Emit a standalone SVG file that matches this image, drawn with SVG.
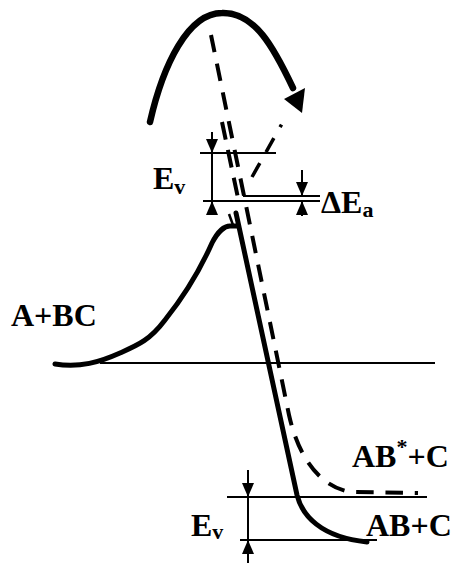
<svg xmlns="http://www.w3.org/2000/svg" width="457" height="563" viewBox="0 0 457 563">
<style>
.lbl{font-family:"Liberation Serif","Times New Roman",serif;font-weight:bold;font-size:32px;fill:#000}
.sub{font-size:22px}
.thin{stroke:#000;stroke-width:2;fill:none}
.solid{stroke:#000;stroke-width:5;fill:none;stroke-linecap:round;stroke-linejoin:round}
.dash{stroke:#000;stroke-width:4;fill:none}
.arr{stroke:#000;stroke-width:2;fill:none;marker-end:url(#ah)}
</style>
<defs>
<marker id="ah" viewBox="0 0 14 12" refX="14" refY="6" markerWidth="14" markerHeight="13" markerUnits="userSpaceOnUse" orient="auto">
<path d="M0,0 L14,6 L0,12 z" fill="#000"/>
</marker>
</defs>
<rect width="457" height="563" fill="#fff"/>
<g id="connectors">
<path id="arc" d="M150,122 C163,65 188,13 222,13 C255,12 274,48 293,88" stroke="#000" stroke-width="6.5" fill="none" stroke-linecap="round"/>
<polygon points="284,99 305,88 302,113" fill="#000"/>
<line class="thin" x1="100" y1="363" x2="435" y2="363"/>
<path class="solid" d="M55,364 C80,368 100,362 120,353 C138,345 150,340 165,320 C185,295 200,270 212,243 C218,231 225,226 230,226 L238,226"/>
<path class="solid" d="M236,213 L297,495 C302,515 320,537 367,542"/>
<line x1="229" y1="214" x2="233" y2="225" stroke="#000" stroke-width="2.5"/>
<path class="dash" d="M211,35 L289,415 C298,455 318,486 350,492 L418,493" stroke-dasharray="17.5 11.8"/>
<path class="dash" d="M222,122 L238,198" stroke-dasharray="18 10.5"/>
<path d="M252,177 L283.5,121" stroke="#000" stroke-width="3.5" fill="none" stroke-dasharray="16 12.6 16 12.6 3 50"/>
<line class="thin" x1="200" y1="153" x2="276" y2="153"/>
<line class="thin" x1="243" y1="196" x2="320" y2="196"/>
<line class="thin" x1="203" y1="201" x2="320" y2="201"/>
<line class="thin" x1="227" y1="497" x2="427" y2="497"/>
<line class="thin" x1="240" y1="540" x2="377" y2="540"/>
<line class="thin" x1="212" y1="153" x2="212" y2="201"/>
<line class="arr" x1="212" y1="132" x2="212" y2="153"/>
<line class="arr" x1="212" y1="214" x2="212" y2="201"/>
<line class="arr" x1="302" y1="170" x2="302" y2="196"/>
<line class="arr" x1="302" y1="216" x2="302" y2="201"/>
<line class="thin" x1="248" y1="497" x2="248" y2="540"/>
<line class="arr" x1="248" y1="470" x2="248" y2="497"/>
<line class="arr" x1="248" y1="563" x2="248" y2="540"/>
</g>
<g id="label-ABC"><text class="lbl" x="11" y="326">A+BC</text></g>
<g id="label-ABstar"><text class="lbl" x="352" y="467">AB<tspan class="sub" dy="-13">*</tspan><tspan dy="13">+C</tspan></text></g>
<g id="label-AB"><text class="lbl" x="366" y="536">AB+C</text></g>
<g id="label-Ev-top"><text class="lbl" x="153" y="189">E<tspan class="sub" dy="5">v</tspan></text></g>
<g id="label-dEa"><text class="lbl" x="321" y="213">ΔE<tspan class="sub" dy="4">a</tspan></text></g>
<g id="label-Ev-bottom"><text class="lbl" x="191" y="536">E<tspan class="sub" dy="3">v</tspan></text></g>
</svg>
